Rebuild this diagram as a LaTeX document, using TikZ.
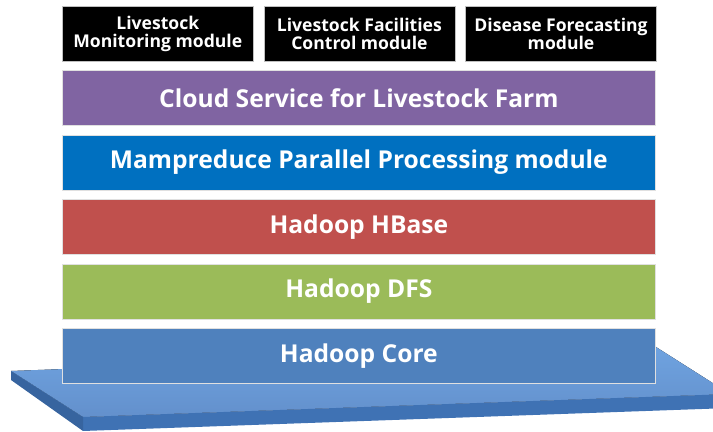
\documentclass[tikz,border=0pt]{standalone}
\usepackage{fontspec}
\setmainfont{Open Sans}
\usetikzlibrary{positioning}
\usepackage{xcolor}

\definecolor{cloudpurple}{HTML}{8064A2}
\definecolor{mapblue}{HTML}{0070C0}
\definecolor{hbasered}{HTML}{C0504D}
\definecolor{dfsgreen}{HTML}{9BBB59}
\definecolor{coreblue}{HTML}{4F81BD}
\definecolor{platetop}{HTML}{6FA3E0}
\definecolor{platemid}{HTML}{6390CC}
\definecolor{platefront}{HTML}{3F72B4}
\definecolor{plateside}{HTML}{37649F}

\begin{document}
\begin{tikzpicture}[
x=0.025cm, y=-0.025cm,
node distance=0.225cm,
layer/.style={rectangle,
minimum width=14.825cm,
minimum height=1.375cm,
inner sep=0pt,
draw=black!12,
text=white,
font=\bfseries\fontsize{17.5}{20}\selectfont},
module/.style={rectangle,
fill=black,
draw=black!25,
minimum width=4.775cm,
minimum height=1.375cm,
inner sep=0pt,
align=center,
text=white,
font=\bfseries\fontsize{12.5}{13}\selectfont}
]
\useasboundingbox (0,0) rectangle (713,432);

% base plate under the stack
\coordinate (backleft) at (11,371);
\coordinate (backright) at (656,347);
\coordinate (frontright) at (730,394);
\coordinate (frontleft) at (83,417);
\coordinate (frontleftlow) at (83,431);
\coordinate (frontrightlow) at (730,408);
\coordinate (backleftlow) at (11,380);

\fill[top color=platetop, bottom color=platemid] (backleft) -- (backright) -- (frontright) -- (frontleft) -- cycle;
\fill[platefront] (frontleft) -- (frontright) -- (frontrightlow) -- (frontleftlow) -- cycle;
\fill[plateside] (backleft) -- (frontleft) -- (frontleftlow) -- (backleftlow) -- cycle;

% application modules on top
\node[module, anchor=north west] (monitoring) at (62,6) {Livestock\\Monitoring module};
\node[module, right=0.25cm of monitoring] (facilities) {Livestock Facilities\\Control module};
\node[module, right=0.25cm of facilities] (forecasting) {Disease Forecasting\\module};

% platform layers
\node[layer, fill=cloudpurple, anchor=north west] (cloud) at (62,70) {Cloud Service for Livestock Farm};
\node[layer, fill=mapblue, below=of cloud] (mapreduce) {Mampreduce Parallel Processing module};
\node[layer, fill=hbasered, below=of mapreduce] (hbase) {Hadoop HBase};
\node[layer, fill=dfsgreen, below=of hbase] (dfs) {Hadoop DFS};
\node[layer, fill=coreblue, below=of dfs] (core) {Hadoop Core};

\end{tikzpicture}
\end{document}
